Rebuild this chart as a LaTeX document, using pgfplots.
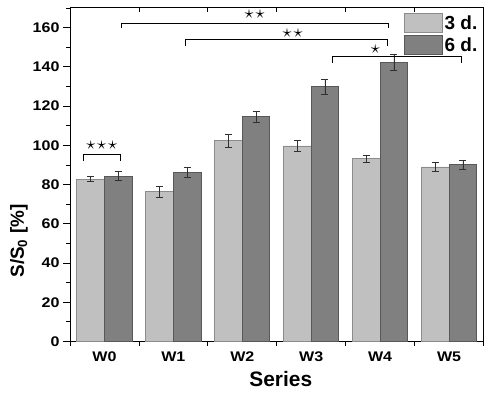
\documentclass[border=0pt]{standalone}
\usepackage{fontspec}
\setmainfont{Liberation Sans}
\newfontfamily\tickfont{Liberation Sans}[FakeStretch=1.15]
\usepackage{pgfplots}
\pgfplotsset{compat=1.18}
\usetikzlibrary{calc}
\definecolor{lightbar}{HTML}{C0C0C0}
\definecolor{darkbar}{HTML}{808080}
\definecolor{lightedge}{HTML}{8C8C8C}
\definecolor{darkedge}{HTML}{585858}
\definecolor{errcol}{HTML}{303030}
\newcommand{\st}{\ensuremath{\star}}
\newcommand{\stars}[1]{\scalebox{1.8}{#1}}
\begin{document}
\begin{tikzpicture}
\begin{axis}[name=ax,
  width=413.5bp, height=333.5bp, scale only axis,
  xmin=0.5, xmax=6.5, ymin=0, ymax=170,
  ybar, bar width=0.4,
  xtick={1,...,6}, xticklabels={W0,W1,W2,W3,W4,W5},
  major x tick style={draw=none},
  minor xtick={0.5,1.5,...,6.5},
  xtick pos=bottom,
  ytick={0,20,...,160}, minor ytick={10,30,...,170},
  ytick pos=left,
  tick align=outside,
  major tick length=7bp, minor tick length=4bp,
  tick style={black, line width=0.8bp},
  axis line style={black, line width=1bp},
  /pgf/number format/assume math mode=true,
  ticklabel style={font=\tickfont\bfseries\fontsize{14}{14}\selectfont},
  legend style={at={(rel axis cs:1,1)}, anchor=north east, draw=none, fill=none,
    font=\bfseries\fontsize{19}{19}\selectfont, row sep=2bp,
    xshift=-1bp, yshift=-3bp},
  legend cell align=left,
  legend image code/.code={\draw[#1] (0bp,-9.5bp) rectangle (38.3bp,9.5bp);},
  error bars/error bar style={errcol, line width=0.6bp},
  error bars/error mark options={rotate=90, mark size=3.5bp, line width=0.6bp, errcol},
]
\addplot[fill=lightbar, draw=lightedge, line width=0.8bp, bar shift=-0.2,
  error bars/.cd, y dir=both, y explicit]
  coordinates {
  (1,82.8) +- (0,1.2)
  (2,76.4) +- (0,2.8)
  (3,102.3) +- (0,3.4)
  (4,99.7) +- (0,2.7)
  (5,93.3) +- (0,1.7)
  (6,89.0) +- (0,2.4)
  };
\addplot[fill=darkbar, draw=darkedge, line width=0.8bp, bar shift=0.2,
  error bars/.cd, y dir=both, y explicit]
  coordinates {
  (1,84.3) +- (0,2.3)
  (2,86.3) +- (0,2.7)
  (3,114.5) +- (0,2.7)
  (4,129.8) +- (0,4.0)
  (5,142.4) +- (0,4.0)
  (6,90.1) +- (0,2.4)
  };
\legend{3 d.,6 d.}
% significance brackets
\addplot[forget plot, sharp plot, black, line width=0.8bp, mark=none]
  coordinates {(0.69,92) (0.69,95.5) (1.235,95.5) (1.235,92)};
\addplot[forget plot, sharp plot, black, line width=0.8bp, mark=none]
  coordinates {(1.239,160) (1.239,162.2) (5.123,162.2) (5.123,160)};
\addplot[forget plot, sharp plot, black, line width=0.8bp, mark=none]
  coordinates {(2.181,150.8) (2.181,154.2) (5.104,154.2) (5.104,150.8)};
\addplot[forget plot, sharp plot, black, line width=0.8bp, mark=none]
  coordinates {(4.312,142) (4.312,145.5) (6.181,145.5) (6.181,142)};
\node[inner sep=0pt] at (axis cs:0.96,100) {\stars{\st\kern1.1pt\st\kern1.1pt\st}};
\node[inner sep=0pt] at (axis cs:3.18,166.6) {\stars{\st\kern1.1pt\st}};
\node[inner sep=0pt] at (axis cs:3.73,157.2) {\stars{\st\kern1.1pt\st}};
\node[inner sep=0pt] at (axis cs:4.93,149.1) {\stars{\st}};
\end{axis}
\begin{axis}[
  width=413.5bp, height=333.5bp, scale only axis,
  xmin=0.5, xmax=6.5, ymin=0, ymax=170,
  axis x line*=top, axis y line=none,
  axis line style={draw=none},
  xtick={1.5,2.5,...,5.5}, xticklabels={},
  tick align=inside, major tick length=4bp,
  tick style={black, line width=0.8bp},
]
\end{axis}
\node[rotate=90, font=\bfseries\fontsize{19}{19}\selectfont, inner sep=0pt]
  at ($(ax.south west)+(-51bp,100.5bp)$) {S/S\textsubscript{0} [\%]};
\node[font=\bfseries\fontsize{21}{21}\selectfont, inner sep=0pt]
  at ($(ax.south)+(4bp,-38bp)$) {Series};
\pgfresetboundingbox
\path[use as bounding box] ($(ax.south west)+(-70bp,-54.5bp)$) rectangle ($(ax.north east)+(15.5bp,8bp)$);
\end{tikzpicture}
\end{document}
